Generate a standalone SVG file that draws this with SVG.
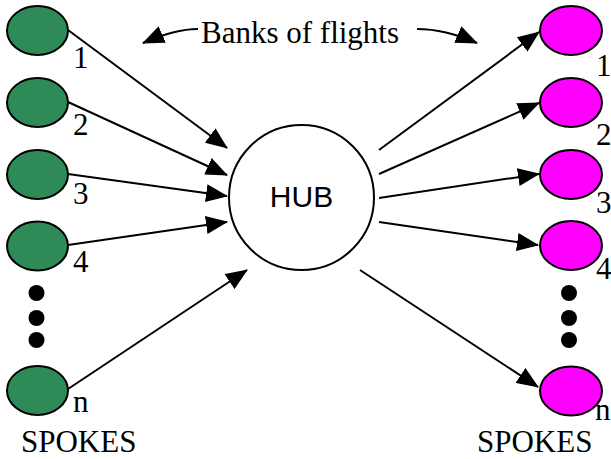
<svg xmlns="http://www.w3.org/2000/svg" width="611" height="459" viewBox="0 0 611 459">
<defs>
<marker id="ah" markerUnits="userSpaceOnUse" markerWidth="22" markerHeight="18" viewBox="0 0 22 18" refX="21" refY="9" orient="auto">
<polygon points="0,0 22,9 0,18" fill="#000"/>
</marker>
</defs>
<style>
.g{fill:#2e8b57;stroke:#000;stroke-width:2}
.m{fill:#ff00ff;stroke:#000;stroke-width:2}
.t{font-family:"Liberation Serif","Times New Roman",serif;font-size:31px;fill:#000}
.c line,.c path{stroke:#000;stroke-width:2;fill:none;marker-end:url(#ah)}
.d{fill:#000}
</style>
<rect width="611" height="459" fill="#fff"/>
<g class="c" id="connectors">
<line x1="68" y1="30" x2="227" y2="148"/>
<line x1="68" y1="102" x2="227" y2="175"/>
<line x1="68" y1="174" x2="227" y2="196"/>
<line x1="68" y1="245" x2="227" y2="222"/>
<line x1="68" y1="389" x2="247" y2="270"/>
<line x1="379" y1="150" x2="539" y2="32"/>
<line x1="379" y1="174" x2="539" y2="103"/>
<line x1="379" y1="198" x2="539" y2="174"/>
<line x1="379" y1="222" x2="538" y2="245"/>
<line x1="360" y1="270" x2="538" y2="387"/>
<path d="M198,29 Q175,29 143,43"/>
<path d="M417,29 Q445,29 477,43"/>
</g>
<g id="hub">
<circle cx="301.5" cy="197.5" r="72.5" fill="#fff" stroke="#000" stroke-width="2"/>
<text x="301.5" y="207" text-anchor="middle" font-family="Liberation Sans, Arial, sans-serif" font-size="30">HUB</text>
</g>
<g id="banks"><text class="t" x="201" y="43">Banks of flights</text></g>
<g id="left-1"><ellipse class="g" cx="37.5" cy="30.5" rx="30.5" ry="24.5"/><text class="t" x="73" y="68">1</text></g>
<g id="left-2"><ellipse class="g" cx="37.5" cy="102.5" rx="30.5" ry="24.5"/><text class="t" x="73" y="135">2</text></g>
<g id="left-3"><ellipse class="g" cx="37.5" cy="174.5" rx="30.5" ry="24.5"/><text class="t" x="73" y="204">3</text></g>
<g id="left-4"><ellipse class="g" cx="37.5" cy="246" rx="30.5" ry="24.5"/><text class="t" x="73" y="272">4</text></g>
<g id="left-n"><ellipse class="g" cx="37.5" cy="390.5" rx="30.5" ry="24.5"/><text class="t" x="73" y="412">n</text></g>
<g id="left-dots"><circle class="d" cx="36.5" cy="293" r="8"/><circle class="d" cx="36.5" cy="318" r="8"/><circle class="d" cx="36.5" cy="340" r="8"/></g>
<g id="left-label"><text class="t" x="21" y="452">SPOKES</text></g>
<g id="right-1"><ellipse class="m" cx="571" cy="30.5" rx="31" ry="24.5"/><text class="t" x="596" y="76">1</text></g>
<g id="right-2"><ellipse class="m" cx="571" cy="102.5" rx="31" ry="24.5"/><text class="t" x="596" y="145">2</text></g>
<g id="right-3"><ellipse class="m" cx="571" cy="174.5" rx="31" ry="24.5"/><text class="t" x="596" y="213">3</text></g>
<g id="right-4"><ellipse class="m" cx="571" cy="245.5" rx="31" ry="24.5"/><text class="t" x="596" y="279">4</text></g>
<g id="right-n"><ellipse class="m" cx="571" cy="391" rx="31" ry="24.5"/><text class="t" x="595" y="420">n</text></g>
<g id="right-dots"><circle class="d" cx="569" cy="293" r="8"/><circle class="d" cx="569" cy="318" r="8"/><circle class="d" cx="569" cy="340" r="8"/></g>
<g id="right-label"><text class="t" x="477" y="452">SPOKES</text></g>
</svg>
